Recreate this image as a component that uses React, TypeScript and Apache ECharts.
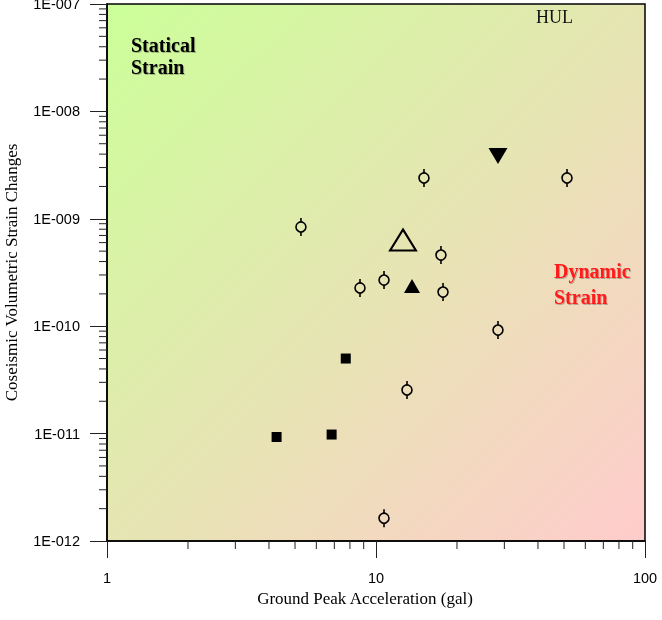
import React, { useEffect, useRef } from "react";
import * as echarts from "echarts";

// ---- data ----
const circleX = [5.26, 15.08, 17.44, 8.72, 10.71, 17.75, 51.3, 28.41, 13.04, 10.71];
const circleY = [8.4e-10, 2.4e-9, 4.6e-10, 2.27e-10, 2.69e-10, 2.08e-10, 2.4e-9, 9.2e-11, 2.55e-11, 1.63e-12];
const squareX = [7.72, 4.27, 6.84];
const squareY = [5.0e-11, 9.3e-12, 9.8e-12];
const openTriangleX = [12.6];
const openTriangleY = [6.35e-10];
const filledTriangleX = [13.61];
const filledTriangleY = [2.37e-10];
const downTriangleX = [28.41];
const downTriangleY = [3.85e-9];

const X_MIN = 1;
const X_MAX = 100;
const Y_MIN = 1e-12;
const Y_MAX = 1e-7;
const xMinorTicks = [2, 3, 4, 5, 6, 7, 8, 9, 20, 30, 40, 50, 60, 70, 80, 90];
const yDecades = [1e-12, 1e-11, 1e-10, 1e-9, 1e-8];
const minorMultipliers = [2, 3, 4, 5, 6, 7, 8, 9];
const yMinorTicks: number[] = [];
yDecades.forEach((d) => minorMultipliers.forEach((m) => yMinorTicks.push(m * d)));

const zip = (xs: number[], ys: number[]) => xs.map((x, i) => [x, ys[i]]);

const fmtY = (v: number) => {
  const e = Math.round(Math.log10(v));
  const a = Math.abs(e);
  return "1E" + (e < 0 ? "-" : "+") + String(a).padStart(3, "0");
};

export default function App() {
  const ref = useRef<HTMLDivElement>(null);
  useEffect(() => {
    if (!ref.current) return;
    const chart = echarts.init(ref.current, null, { renderer: "svg" });
    const serif = "Liberation Serif";
    const sans = "Liberation Sans";
    const tickColor = "#222";
    const shadow = { textShadowColor: "rgba(0,0,0,0.25)", textShadowOffsetX: 1, textShadowOffsetY: 1, textShadowBlur: 1 };
    chart.setOption({
      animation: false,
      grid: {
        left: 107,
        right: 17,
        top: 4,
        bottom: 79,
        containLabel: false,
        outerBoundsMode: "none",
        show: true,
        borderColor: "#000",
        borderWidth: 1.5,
        backgroundColor: new echarts.graphic.LinearGradient(0, 0, 1, 1, [
          { offset: 0, color: "#ccff99" },
          { offset: 1, color: "#ffcccc" },
        ]),
      },
      xAxis: {
        type: "log",
        logBase: 10,
        min: X_MIN,
        max: X_MAX,
        axisLine: { show: true, lineStyle: { color: "#000", width: 1.5 } },
        axisTick: { show: true, length: 17, lineStyle: { color: tickColor, width: 1 } },
        splitLine: { show: false },
        axisLabel: {
          fontFamily: sans,
          fontSize: 14.5,
          color: "#000",
          margin: 29,
          formatter: (v: number) => String(Math.round(v)),
        },
        name: "Ground Peak Acceleration (gal)",
        nameLocation: "middle",
        nameGap: 45,
        nameTextStyle: { fontFamily: serif, fontSize: 17, color: "#000", padding: [0, 22, 0, 0] },
      },
      yAxis: {
        type: "log",
        logBase: 10,
        min: Y_MIN,
        max: Y_MAX,
        axisLine: { show: true, lineStyle: { color: "#000", width: 1.5 } },
        axisTick: { show: true, length: 17, lineStyle: { color: tickColor, width: 1 } },
        splitLine: { show: false },
        axisLabel: {
          fontFamily: sans,
          fontSize: 14.5,
          color: "#000",
          margin: 27,
          formatter: fmtY,
        },
        name: "Coseismic Volumetric Strain Changes",
        nameLocation: "middle",
        nameRotate: 90,
        nameGap: 87,
        nameTextStyle: { fontFamily: serif, fontSize: 17, color: "#000" },
      },
      graphic: [
        { type: "text", x: 131, y: 45, style: { text: "Statical", font: `bold 20px "${serif}"`, fill: "#000", verticalAlign: "middle", ...shadow } },
        { type: "text", x: 131, y: 67, style: { text: "Strain", font: `bold 20px "${serif}"`, fill: "#000", verticalAlign: "middle", ...shadow } },
        { type: "text", x: 554, y: 271, style: { text: "Dynamic", font: `bold 20px "${serif}"`, fill: "#ff1a1a", verticalAlign: "middle", ...shadow } },
        { type: "text", x: 554, y: 296.5, style: { text: "Strain", font: `bold 20px "${serif}"`, fill: "#ff1a1a", verticalAlign: "middle", ...shadow } },
        { type: "text", x: 536, y: 17, style: { text: "HUL", font: `18px "${serif}"`, fill: "#111", verticalAlign: "middle" } },
      ],
      series: [
        {
          type: "custom",
          name: "xMinor",
          silent: true,
          clip: false,
          data: xMinorTicks.map((v) => [v, Y_MIN]),
          renderItem: (_p: any, api: any) => {
            const p = api.coord([api.value(0), api.value(1)]);
            return { type: "line", shape: { x1: p[0], y1: p[1], x2: p[0], y2: p[1] + 8 }, style: { stroke: tickColor, lineWidth: 1 } };
          },
        },
        {
          type: "custom",
          name: "yMinor",
          silent: true,
          clip: false,
          data: yMinorTicks.map((v) => [X_MIN, v]),
          renderItem: (_p: any, api: any) => {
            const p = api.coord([api.value(0), api.value(1)]);
            return { type: "line", shape: { x1: p[0] - 8, y1: p[1], x2: p[0], y2: p[1] }, style: { stroke: tickColor, lineWidth: 1 } };
          },
        },
        {
          type: "custom",
          name: "circles",
          data: zip(circleX, circleY),
          renderItem: (_p: any, api: any) => {
            const p = api.coord([api.value(0), api.value(1)]);
            const st = { stroke: "#000", lineWidth: 1.6, fill: "none" };
            return {
              type: "group",
              children: [
                { type: "line", shape: { x1: p[0], y1: p[1] - 9, x2: p[0], y2: p[1] - 5 }, style: st },
                { type: "line", shape: { x1: p[0], y1: p[1] + 5, x2: p[0], y2: p[1] + 9 }, style: st },
                { type: "circle", shape: { cx: p[0], cy: p[1], r: 5 }, style: st },
              ],
            };
          },
        },
        {
          type: "scatter",
          name: "squares",
          symbol: "rect",
          symbolSize: 10,
          itemStyle: { color: "#000", opacity: 1 },
          data: zip(squareX, squareY),
        },
        {
          type: "scatter",
          name: "openTriangle",
          symbol: "triangle",
          symbolSize: [26, 21],
          itemStyle: { color: "rgba(0,0,0,0)", borderColor: "#000", borderWidth: 2, opacity: 1 },
          data: zip(openTriangleX, openTriangleY),
        },
        {
          type: "scatter",
          name: "filledTriangle",
          symbol: "triangle",
          symbolSize: [16, 14],
          itemStyle: { color: "#000", opacity: 1 },
          data: zip(filledTriangleX, filledTriangleY),
        },
        {
          type: "scatter",
          name: "downTriangle",
          symbol: "triangle",
          symbolRotate: 180,
          symbolSize: [19, 16],
          itemStyle: { color: "#000", opacity: 1 },
          data: zip(downTriangleX, downTriangleY),
        },
      ],
    });
    return () => chart.dispose();
  }, []);
  return <div ref={ref} style={{ position: "fixed", left: 0, top: 0, width: 662, height: 620 }} />;
}
